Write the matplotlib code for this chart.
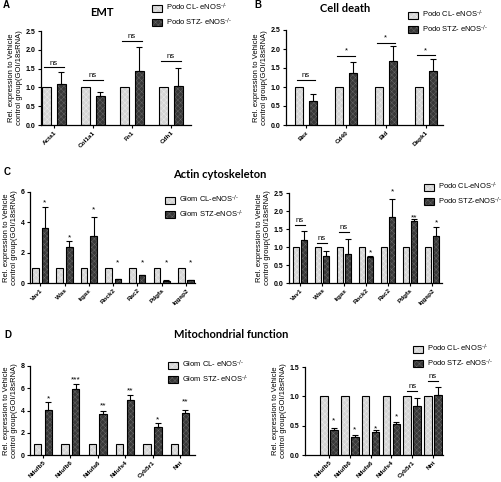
import numpy as np
import matplotlib
matplotlib.use("Agg")
import matplotlib.pyplot as plt
from matplotlib.patches import Patch

plt.rcParams['font.family'] = ['Liberation Sans', 'DejaVu Sans']
plt.rcParams['hatch.linewidth'] = 0.3

# A - EMT (podocytes)
emt_genes = ['Acta1', 'Col1a1', 'Fn1', 'Cdh1']
emt_cl = [1.0, 1.0, 1.0, 1.0]
emt_stz = [1.10, 0.78, 1.43, 1.05]
emt_err = [0.32, 0.09, 0.65, 0.46]
emt_sig = ['ns', 'ns', 'ns', 'ns']
emt_sig_y = [1.53, 1.21, 2.24, 1.70]

# B - cell death (podocytes)
death_genes = ['Bax', 'Cd40', 'Bid', 'Dapk1']
death_cl = [1.0, 1.0, 1.0, 1.0]
death_stz = [0.62, 1.38, 1.68, 1.42]
death_err = [0.20, 0.29, 0.40, 0.33]
death_sig = ['ns', '*', '*', '*']
death_sig_y = [1.18, 1.82, 2.17, 1.84]

# C - actin cytoskeleton (glomeruli / podocytes)
actin_genes = ['Vav1', 'Was', 'Itgax', 'Rock2', 'Rac2', 'Pdgfa', 'Iqgap2']
actin_glom_cl = [1.0, 1.0, 1.0, 1.0, 1.0, 1.0, 1.0]
actin_glom_stz = [3.65, 2.40, 3.10, 0.25, 0.50, 0.15, 0.20]
actin_glom_err = [1.38, 0.40, 1.25, 0.03, 0.04, 0.03, 0.03]
actin_glom_sig = ['*', '*', '*', '*', '*', '*', '*']
actin_glom_sig_y = [5.25, 3.0, 4.85, 1.35, 1.35, 1.35, 1.35]
actin_podo_cl = [1.0, 1.0, 1.0, 1.0, 1.0, 1.0, 1.0]
actin_podo_stz = [1.20, 0.76, 0.81, 0.72, 1.82, 1.71, 1.31]
actin_podo_err = [0.24, 0.14, 0.41, 0.04, 0.50, 0.08, 0.25]
actin_podo_sig = ['ns', 'ns', 'ns', '*', '*', '**', '*']
actin_podo_sig_y = [1.62, 1.11, 1.43, 0.84, 2.52, 1.80, 1.66]

# D - mitochondrial function (glomeruli / podocytes)
mito_genes = ['Ndufb5', 'Ndufb6', 'Ndufa6', 'Ndufs4', 'Cyb5r1', 'Nnt']
mito_glom_cl = [1.0, 1.0, 1.0, 1.0, 1.0, 1.0]
mito_glom_stz = [4.05, 5.90, 3.70, 4.90, 2.50, 3.75]
mito_glom_err = [0.70, 0.50, 0.28, 0.48, 0.40, 0.32]
mito_glom_sig = ['*', '***', '**', '**', '*', '**']
mito_glom_sig_y = [5.0, 6.75, 4.4, 5.75, 3.2, 4.75]
mito_podo_cl = [1.0, 1.0, 1.0, 1.0, 1.0, 1.0]
mito_podo_stz = [0.43, 0.31, 0.40, 0.52, 0.83, 1.02]
mito_podo_err = [0.03, 0.03, 0.02, 0.04, 0.15, 0.14]
mito_podo_sig = ['*', '*', '*', '*', 'ns', 'ns']
mito_podo_sig_y = [0.58, 0.42, 0.44, 0.65, 1.09, 1.26]

LIGHT, LIGHT_HATCH = '#d4d4d4', '#f0f0f0'
DARK, DARK_HATCH = '#383838', '#6e6e6e'
YLABEL = 'Rel. expression to Vehicle\ncontrol group(GOI/18sRNA)'
KO = r'$^{\text{-/-}}$'

W, H = 501, 482
fig = plt.figure(figsize=(W / 100, H / 100), dpi=100)


def box(l, t, r, b):
	# pixel box -> figure fraction
	return [l / W, 1 - b / H, (r - l) / W, (b - t) / H]


def panel(rect, genes, cl, stz, err, sig, sig_y, lines, xlim, width, offset, half, ymax, ystep):
	ax = fig.add_axes(rect)
	x = np.arange(len(genes))
	for vals, dx, fc, hc in ((cl, -offset / 2, LIGHT, LIGHT_HATCH), (stz, offset / 2, DARK, DARK_HATCH)):
		ax.bar(x + dx, vals, width, color=fc, edgecolor=hc, hatch='xxxxxx', lw=0, zorder=2)
		ax.bar(x + dx, vals, width, fill=False, edgecolor='black', lw=0.8, zorder=3)
	ax.errorbar(x + offset / 2, stz, yerr=[[0] * len(err), err], fmt='none', ecolor='black',
		elinewidth=0.8, capsize=2, capthick=0.8, zorder=4)
	for i, (s, y) in enumerate(zip(sig, sig_y)):
		if lines == 'all' or (lines == 'ns' and s == 'ns'):
			ax.plot([i - half, i + half], [y, y], color='black', lw=0.8, clip_on=False)
			ax.text(i, y + ymax * 0.01, s, ha='center', va='bottom', fontsize=5.5)
		else:
			ax.text(i + offset / 2, y, s, ha='center', va='center', fontsize=6)
	ax.set_xlim(*xlim)
	ax.set_ylim(0, ymax)
	ticks = np.arange(0, ymax + 1e-9, ystep)
	ax.set_yticks(ticks)
	if ystep < 1:
		ax.set_yticklabels(['%.1f' % t for t in ticks])
	else:
		ax.set_yticklabels(['%d' % t for t in ticks])
	ax.set_xticks(x)
	ax.set_xticklabels(genes, rotation=45, ha='right', rotation_mode='anchor')
	for lab in ax.get_yticklabels():
		lab.set_fontsize(5)
		lab.set_fontweight('bold')
	for lab in ax.get_xticklabels():
		lab.set_fontsize(4.6)
		lab.set_fontweight('bold')
	ax.spines['top'].set_visible(False)
	ax.spines['right'].set_visible(False)
	for s in ('left', 'bottom'):
		ax.spines[s].set_linewidth(0.9)
	ax.tick_params(length=2.5, width=0.8, pad=1.5)
	ax.tick_params(axis='x', pad=1)
	ax.set_ylabel(YLABEL, fontsize=5.5, labelpad=2, linespacing=1.1)
	return ax


def legend(x, y, labels):
	handles = [
		(Patch(facecolor=LIGHT, edgecolor=LIGHT_HATCH, hatch='xxxxxx', lw=0), Patch(fill=False, edgecolor='black', lw=0.8)),
		(Patch(facecolor=DARK, edgecolor=DARK_HATCH, hatch='xxxxxx', lw=0), Patch(fill=False, edgecolor='black', lw=0.8)),
	]
	fig.legend(handles, labels, loc='upper left', bbox_to_anchor=(x / W, 1 - y / H), frameon=False,
		fontsize=5.4, handlelength=1.35, handleheight=1.1, handletextpad=0.5, labelspacing=0.4,
		borderpad=0, borderaxespad=0)


panel(box(41, 31, 191, 125), emt_genes, emt_cl, emt_stz, emt_err, emt_sig, emt_sig_y, 'all',
	(-0.33, 3.51), 0.23, 0.38, 0.26, 2.5, 0.5)
panel(box(286, 30, 443, 125), death_genes, death_cl, death_stz, death_err, death_sig, death_sig_y, 'all',
	(-0.5, 3.43), 0.21, 0.35, 0.22, 2.5, 0.5)
panel(box(30, 192, 195, 283), actin_genes, actin_glom_cl, actin_glom_stz, actin_glom_err,
	actin_glom_sig, actin_glom_sig_y, 'none', (-0.42, 6.37), 0.27, 0.39, 0.2, 6, 2)
panel(box(289, 193, 442, 283), actin_genes, actin_podo_cl, actin_podo_stz, actin_podo_err,
	actin_podo_sig, actin_podo_sig_y, 'ns', (-0.5, 6.45), 0.28, 0.36, 0.23, 2.5, 0.5)
panel(box(30, 366, 195, 455), mito_genes, mito_glom_cl, mito_glom_stz, mito_glom_err,
	mito_glom_sig, mito_glom_sig_y, 'none', (-0.47, 5.55), 0.27, 0.39, 0.2, 8, 2)
panel(box(305, 367, 443, 455), mito_genes, mito_podo_cl, mito_podo_stz, mito_podo_err,
	mito_podo_sig, mito_podo_sig_y, 'ns', (-1.15, 5.48), 0.37, 0.48, 0.23, 1.5, 0.5)

legend(152, 2, ['Podo CL- eNOS' + KO, 'Podo STZ- eNOS' + KO])
legend(408, 9, ['Podo CL- eNOS' + KO, 'Podo STZ- eNOS' + KO])
legend(165, 194, ['Glom CL-eNOS' + KO, 'Glom STZ-eNOS' + KO])
legend(424, 181, ['Podo CL-eNOS' + KO, 'Podo STZ-eNOS' + KO])
legend(168, 359, ['Glom CL- eNOS' + KO, 'Glom STZ- eNOS' + KO])
legend(413, 343, ['Podo CL- eNOS' + KO, 'Podo STZ- eNOS' + KO])

# panel titles and letters
for txt, x, y in (('EMT', 102, 12), ('Cell death', 345, 9), ('Actin cytoskeleton', 220, 174),
		('Mitochondrial function', 231, 335)):
	fig.text(x / W, 1 - y / H, txt, ha='center', va='center', fontsize=8, fontweight='bold', family='Lato')
for txt, x, y in (('A', 3, 5), ('B', 254, 5), ('C', 4, 172), ('D', 4, 335)):
	fig.text(x / W, 1 - y / H, txt, ha='left', va='center', fontsize=7, fontweight='bold')

fig.savefig('out.png', dpi=100)
